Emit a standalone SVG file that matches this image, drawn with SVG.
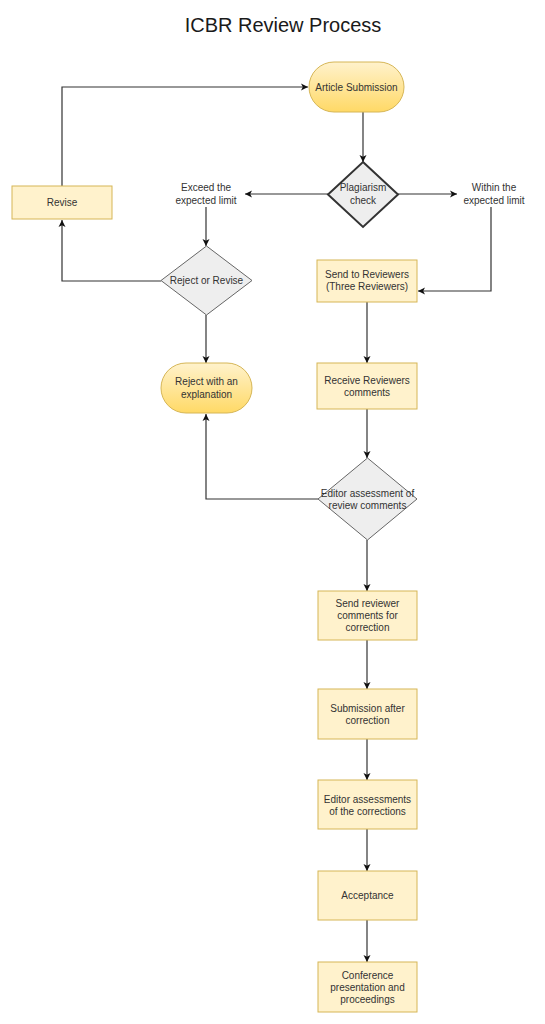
<svg xmlns="http://www.w3.org/2000/svg" width="545" height="1024" viewBox="0 0 545 1024">
<style>
  .t{font-family:"Liberation Sans",Arial,sans-serif;font-size:10px;fill:#333333;text-anchor:middle}
  .title{font-family:"Liberation Sans",Arial,sans-serif;font-size:20px;fill:#1a1a1a;text-anchor:middle}
  .box{fill:#fff2cc;stroke:#d6b656;stroke-width:1}
  .pill{fill:url(#g);stroke:#d6b656;stroke-width:1}
  .dia{fill:#eeeeee;stroke:#666666;stroke-width:1}
  .dia2{fill:#eeeeee;stroke:#333333;stroke-width:2}
  .c{fill:none;stroke:#333333;stroke-width:1.2;marker-end:url(#a)}
  .cn{fill:none;stroke:#333333;stroke-width:1.2}
</style>
<defs>
  <linearGradient id="g" x1="0" y1="0" x2="0" y2="1">
    <stop offset="0" stop-color="#fff2cc"/>
    <stop offset="1" stop-color="#ffd966"/>
  </linearGradient>
  <marker id="a" markerWidth="8" markerHeight="8" refX="7" refY="4" orient="auto" markerUnits="userSpaceOnUse">
    <path d="M0,0.5 L7,4 L0,7.5 L1.8,4 Z" fill="#111111"/>
  </marker>
</defs>
<rect width="545" height="1024" fill="#ffffff"/>
<text class="title" x="283" y="32">ICBR Review Process</text>

<g id="connectors">
  <path class="c" d="M62,186 V87 H308"/>
  <path class="c" d="M363,112 V162"/>
  <path class="c" d="M328,194 H245"/>
  <path class="c" d="M398,194 H457"/>
  <path class="c" d="M206,207 V246"/>
  <path class="c" d="M491,207 V291 H418"/>
  <path class="c" d="M161,281 H62 V220"/>
  <path class="c" d="M206,315 V363"/>
  <path class="c" d="M367,302 V363"/>
  <path class="c" d="M367,409 V458"/>
  <path class="c" d="M318,499 H206 V414"/>
  <path class="c" d="M367,540 V591"/>
  <path class="c" d="M367,640 V689"/>
  <path class="c" d="M367,739 V780"/>
  <path class="c" d="M367,829 V871"/>
  <path class="c" d="M367,920 V962"/>
</g>

<g id="article-submission">
  <rect class="pill" x="309" y="62" width="95" height="50" rx="25" ry="25"/>
  <text class="t" x="356.5" y="90.5">Article Submission</text>
</g>
<g id="plagiarism-check">
  <polygon class="dia2" points="363,162 398,194.5 363,227 328,194.5"/>
  <text class="t" x="363" y="191">Plagiarism</text>
  <text class="t" x="363" y="203.5">check</text>
</g>
<g id="exceed-label">
  <text class="t" x="206" y="191">Exceed the</text>
  <text class="t" x="206" y="203.5">expected limit</text>
</g>
<g id="within-label">
  <text class="t" x="494" y="191">Within the</text>
  <text class="t" x="494" y="203.5">expected limit</text>
</g>
<g id="revise">
  <rect class="box" x="12" y="186" width="100" height="33"/>
  <text class="t" x="62" y="206">Revise</text>
</g>
<g id="reject-or-revise">
  <polygon class="dia" points="206.5,246 252,280.5 206.5,315 161,280.5"/>
  <text class="t" x="206.5" y="284">Reject or Revise</text>
</g>
<g id="reject-explanation">
  <rect class="pill" x="161" y="363" width="91" height="50" rx="25" ry="25"/>
  <text class="t" x="206.5" y="385">Reject with an</text>
  <text class="t" x="206.5" y="397.5">explanation</text>
</g>
<g id="send-to-reviewers">
  <rect class="box" x="317" y="260" width="100" height="42"/>
  <text class="t" x="367" y="277.5">Send to Reviewers</text>
  <text class="t" x="367" y="290">(Three Reviewers)</text>
</g>
<g id="receive-comments">
  <rect class="box" x="317" y="363" width="100" height="46"/>
  <text class="t" x="367" y="383.5">Receive Reviewers</text>
  <text class="t" x="367" y="396">comments</text>
</g>
<g id="editor-assessment">
  <polygon class="dia" points="367.5,458 417,499 367.5,540 318,499"/>
  <text class="t" x="367.5" y="496.5">Editor assessment of</text>
  <text class="t" x="367.5" y="509">review comments</text>
</g>
<g id="send-comments-correction">
  <rect class="box" x="318" y="591" width="99" height="49"/>
  <text class="t" x="367.5" y="606.5">Send reviewer</text>
  <text class="t" x="367.5" y="618.5">comments for</text>
  <text class="t" x="367.5" y="630.5">correction</text>
</g>
<g id="submission-after-correction">
  <rect class="box" x="318" y="689" width="99" height="50"/>
  <text class="t" x="367.5" y="711.5">Submission after</text>
  <text class="t" x="367.5" y="723.5">correction</text>
</g>
<g id="editor-assessments-corrections">
  <rect class="box" x="318" y="780" width="99" height="49"/>
  <text class="t" x="367.5" y="802.5">Editor assessments</text>
  <text class="t" x="367.5" y="814.5">of the corrections</text>
</g>
<g id="acceptance">
  <rect class="box" x="318" y="871" width="99" height="49"/>
  <text class="t" x="367.5" y="898.5">Acceptance</text>
</g>
<g id="conference">
  <rect class="box" x="318" y="962" width="99" height="50"/>
  <text class="t" x="367.5" y="978.5">Conference</text>
  <text class="t" x="367.5" y="990.5">presentation and</text>
  <text class="t" x="367.5" y="1002.5">proceedings</text>
</g>
</svg>
